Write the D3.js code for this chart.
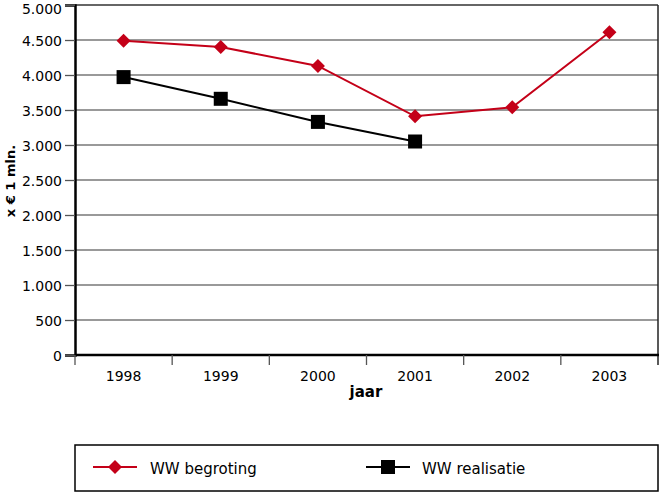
<!DOCTYPE html>
<html><head><meta charset="utf-8">
<script src="https://cdn.jsdelivr.net/npm/d3@7"></script>
<style>body{margin:0;background:#fff}svg{display:block;font-family:"DejaVu Sans",Verdana,sans-serif}</style>
</head><body>
<svg id="c" width="660" height="493"></svg>
<script>
const years = ["1998","1999","2000","2001","2002","2003"];
const begroting = [4490, 4400, 4130, 3410, 3540, 4610];
const realisatie = [3970, 3660, 3330, 3050, null, null];
const yTicks = [0,500,1000,1500,2000,2500,3000,3500,4000,4500,5000];
const seriesNames = ["WW begroting","WW realisatie"];

const FONT = "DejaVu Sans, Verdana, sans-serif";
const svg = d3.select("#c");
const L=75,R=658,T=5,B=355;
const x = d3.scaleBand().domain(years).range([L,R]);
const y = d3.scaleLinear().domain([0,5000]).range([B,T]);
const fmt = v => d3.format(",")(v).replace(/,/g,".");

// gridlines
svg.append("g").selectAll("line").data(yTicks.filter(d=>d>0)).join("line")
  .attr("x1",L).attr("x2",R).attr("y1",d=>y(d)).attr("y2",d=>y(d))
  .attr("stroke",d=>d===5000?"#333":"#777").attr("stroke-width",1.3);
// right border
svg.append("line").attr("x1",R).attr("x2",R).attr("y1",T).attr("y2",B).attr("stroke","#222").attr("stroke-width",1.5);

// y axis
const ya = svg.append("g").attr("transform",`translate(${L},0)`)
  .call(d3.axisLeft(y).tickValues(yTicks).tickFormat(fmt).tickSize(10).tickPadding(3));
ya.select(".domain").attr("stroke","#000").attr("stroke-width",2.5);
ya.selectAll(".tick line").attr("stroke","#555").attr("stroke-width",1.3);
ya.selectAll("text").attr("font-size",14).attr("fill","#000").attr("font-family",FONT)
  .attr("dy",d=>d===5000?"0.58em":"0.42em");

// x axis
const xa = svg.append("g").attr("transform",`translate(0,${B})`)
  .call(d3.axisBottom(x).tickSize(0).tickPadding(16));
xa.select(".domain").remove();
xa.selectAll("text").attr("font-size",14).attr("fill","#000").attr("font-family",FONT);
svg.append("line").attr("x1",L).attr("x2",R+1).attr("y1",B).attr("y2",B).attr("stroke","#000").attr("stroke-width",2.5);
const bounds = years.map(d=>x(d)).concat([R]);
svg.append("g").selectAll("line").data(bounds).join("line")
  .attr("x1",d=>d).attr("x2",d=>d).attr("y1",B).attr("y2",B+10)
  .attr("stroke",(d,i)=>i===bounds.length-1?"#000":"#555").attr("stroke-width",1.3);

// titles
svg.append("text").attr("x",366).attr("y",397).attr("text-anchor","middle")
  .attr("font-size",15).attr("font-weight","bold").text("jaar");
svg.append("text").attr("transform",`translate(15,${181}) rotate(-90)`).attr("text-anchor","middle")
  .attr("font-size",13).attr("font-weight","bold").text("x € 1 mln.");

const cx = d => x(d)+x.bandwidth()/2;
const red = "#c40018";
const line = d3.line().defined(d=>d[1]!=null).x(d=>cx(d[0])).y(d=>y(d[1]));
const bData = years.map((d,i)=>[d,begroting[i]]);
const rData = years.map((d,i)=>[d,realisatie[i]]).filter(d=>d[1]!=null);

svg.append("path").datum(rData).attr("d",line).attr("fill","none").attr("stroke","#000").attr("stroke-width",2);
svg.append("path").datum(bData).attr("d",line).attr("fill","none").attr("stroke",red).attr("stroke-width",2);

const diamond = (g,px,py) => g.append("path").attr("d",`M${px},${py-7}L${px+7},${py}L${px},${py+7}L${px-7},${py}Z`).attr("fill",red);
const square = (g,px,py) => g.append("rect").attr("x",px-7).attr("y",py-7).attr("width",14).attr("height",14).attr("fill","#000");

svg.append("g").selectAll("rect").data(rData).join("rect")
  .attr("x",d=>cx(d[0])-7).attr("y",d=>y(d[1])-7).attr("width",14).attr("height",14).attr("fill","#000");
svg.append("g").selectAll("path").data(bData).join("path")
  .attr("d",d=>{const px=cx(d[0]),py=y(d[1]);return `M${px},${py-7}L${px+7},${py}L${px},${py+7}L${px-7},${py}Z`;})
  .attr("fill",red);

// legend
const lg = svg.append("g");
lg.append("rect").attr("x",75).attr("y",445).attr("width",583).attr("height",46).attr("fill","none").attr("stroke","#000").attr("stroke-width",1.5);
const ly = 467;
lg.append("line").attr("x1",93).attr("x2",137).attr("y1",ly).attr("y2",ly).attr("stroke",red).attr("stroke-width",2);
diamond(lg,115,ly);
lg.append("text").attr("x",150).attr("y",ly+7).attr("font-size",15).text(seriesNames[0]);
lg.append("line").attr("x1",366).attr("x2",410).attr("y1",ly).attr("y2",ly).attr("stroke","#000").attr("stroke-width",2);
square(lg,388,ly);
lg.append("text").attr("x",422).attr("y",ly+7).attr("font-size",15).text(seriesNames[1]);
</script>
</body></html>
